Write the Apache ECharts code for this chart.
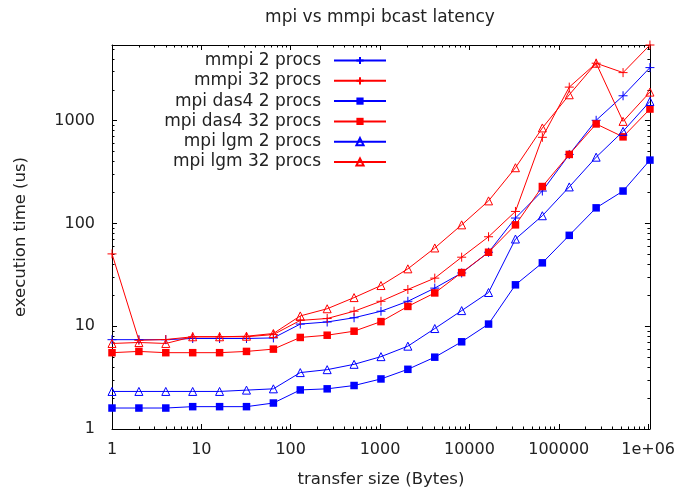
<!DOCTYPE html>
<html><head><meta charset="utf-8">
<script src="https://cdn.jsdelivr.net/npm/echarts@6/dist/echarts.min.js"></script>
<style>html,body{margin:0;padding:0;background:#fff}#c{width:678px;height:493px}</style>
</head><body><div id="c"></div>
<script>
// transfer sizes (Bytes)
const sizes = [1,2,4,8,16,32,64,128,256,512,1024,2048,4096,8192,16384,32768,65536,131072,262144,524288,1048576];
// execution time (us)
const mmpi2   = [7.4,7.4,7.4,7.6,7.6,7.6,7.7,10.5,11.0,12.1,14.0,17.5,23.5,33,52.5,113,207,470,1010,1750,3290];
const mmpi32  = [50.6,7.3,7.43,7.9,7.9,7.9,8.3,11.4,11.9,14.0,17.5,22.8,29.4,47,74.3,131,690,2125,3630,2940,5460];
const das4_2  = [1.6,1.6,1.6,1.65,1.65,1.65,1.79,2.4,2.46,2.65,3.07,3.81,5.0,7.06,10.5,25.3,41.4,76.7,142,207,414];
const das4_32 = [5.53,5.69,5.53,5.53,5.53,5.69,5.99,7.78,8.18,8.95,11.1,15.6,21.1,33.3,52.5,97,229,470,931,697,1300];
const lgm2    = [2.32,2.32,2.32,2.32,2.32,2.39,2.46,3.54,3.78,4.26,5.06,6.4,9.5,14.2,21.3,70.6,119,227,442,789,1541];
const lgm32   = [6.8,6.95,6.8,7.9,7.9,8.0,8.5,12.6,14.8,19.0,24.9,36.2,57.8,97,166,349,851,1790,3630,986,1900];
const seriesNames = ['mmpi 2 procs','mmpi 32 procs','mpi das4 2 procs','mpi das4 32 procs','mpi lgm 2 procs','mpi lgm 32 procs'];
// tick labels
const xTickLabels = ['1','10','100','1000','10000','100000','1e+06'];
const yTickLabels = ['1','10','100','1000'];

const xMajors = xTickLabels.map(s => Number(s));
const yMajors = yTickLabels.map(s => Number(s));
function minorsFor(maxV){ const out=[]; for(let d=1; d<maxV; d*=10){ for(let k=2;k<10;k++){ if(k*d<=maxV) out.push(k*d);} } return out; }
const XMIN = 1, XMAX = Math.max(...sizes);
const YMIN = 1, YMAX = Math.max(...mmpi2, ...mmpi32, ...das4_2, ...das4_32, ...lgm2, ...lgm32);
const xMinors = minorsFor(XMAX);
const yMinors = minorsFor(YMAX);

const FONT = 'DejaVu Sans';
const BLUE = '#0000ff', RED = '#ff0000';
const PLUS = 'path://M0,5L10,5M5,0L5,10';

function fmtX(v){ const i = xMajors.indexOf(Math.round(v)); return i >= 0 ? xTickLabels[i] : ''; }
function fmtY(v){ const i = yMajors.indexOf(Math.round(v)); return i >= 0 ? yTickLabels[i] : ''; }

function xAx(pos, major, withLabel){
  return {
    type:'log', logBase:10, min:XMIN, max:XMAX, position:pos,
    axisLine:{show: major, onZero:false, lineStyle:{color:'#000', width:1}},
    axisTick:{show:true, inside:true, length: major?5:2.5, customValues: major?xMajors:xMinors, lineStyle:{color:'#000', width:1}},
    axisLabel:{show: withLabel, customValues: xMajors, formatter: fmtX, margin: 13, fontFamily: FONT, fontSize: 16, color:'#222'},
    splitLine:{show:false}, minorTick:{show:false},
    name: withLabel ? 'transfer size (Bytes)' : '', nameLocation:'middle', nameGap: 42,
    nameTextStyle:{fontFamily: FONT, fontSize: 16.5, color:'#222'}
  };
}
function yAx(pos, major, withLabel){
  return {
    type:'log', logBase:10, min:YMIN, max:YMAX, position:pos,
    axisLine:{show: major, onZero:false, lineStyle:{color:'#000', width:1}},
    axisTick:{show:true, inside:true, length: major?5:2.5, customValues: major?yMajors:yMinors, lineStyle:{color:'#000', width:1}},
    axisLabel:{show: withLabel, customValues: yMajors, formatter: fmtY, margin: 17, fontFamily: FONT, fontSize: 16, color:'#222'},
    splitLine:{show:false}, minorTick:{show:false},
    name: withLabel ? 'execution time (us)' : '', nameLocation:'middle', nameGap: 83, nameRotate: 90,
    nameTextStyle:{fontFamily: FONT, fontSize: 16.5, color:'#222'}
  };
}

function mk(name, vals, color, symbol, size, hollow){
  return {
    name, type:'line', xAxisIndex:0, yAxisIndex:0,
    data: sizes.map((s,i) => [s, vals[i]]),
    symbol, symbolSize: size, showSymbol:true, showAllSymbol:true,
    lineStyle:{color, width:1},
    itemStyle:{color: hollow ? 'rgba(255,255,255,0)' : color, borderColor: color, borderWidth: symbol === 'rect' ? 0 : 1},
    emphasis:{disabled:true}, animation:false, clip:false
  };
}

const chart = echarts.init(document.getElementById('c'), null, {renderer:'canvas'});
chart.setOption({
  backgroundColor:'#fff',
  animation:false,
  textStyle:{fontFamily: FONT},
  title:{text:'mpi vs mmpi bcast latency', left: 375, top: 4, textAlign:'center',
    textStyle:{fontFamily: FONT, fontSize: 17, fontWeight:'normal', color:'#222'}},
  grid:{left:112, right:27, top:45, bottom:62, containLabel:false},
  legend:{
    orient:'vertical', right: 291, top: 52, align:'right', padding: 0,
    itemWidth: 52, itemHeight: 9, itemGap: 3.3, selectedMode:false,
    textStyle:{fontFamily: FONT, fontSize: 17, color:'#222', padding:[0,8,0,0]},
    data: seriesNames
  },
  xAxis:[ xAx('bottom', true, true), xAx('bottom', false, false), xAx('top', true, false), xAx('top', false, false) ],
  yAxis:[ yAx('left', true, true), yAx('left', false, false), yAx('right', true, false), yAx('right', false, false) ],
  series:[
    mk(seriesNames[0], mmpi2,   BLUE, PLUS, 9, false),
    mk(seriesNames[1], mmpi32,  RED,  PLUS, 9, false),
    mk(seriesNames[2], das4_2,  BLUE, 'rect', 7.5, false),
    mk(seriesNames[3], das4_32, RED,  'rect', 7.5, false),
    mk(seriesNames[4], lgm2,    BLUE, 'triangle', 8, true),
    mk(seriesNames[5], lgm32,   RED,  'triangle', 8, true)
  ]
});
</script></body></html>
